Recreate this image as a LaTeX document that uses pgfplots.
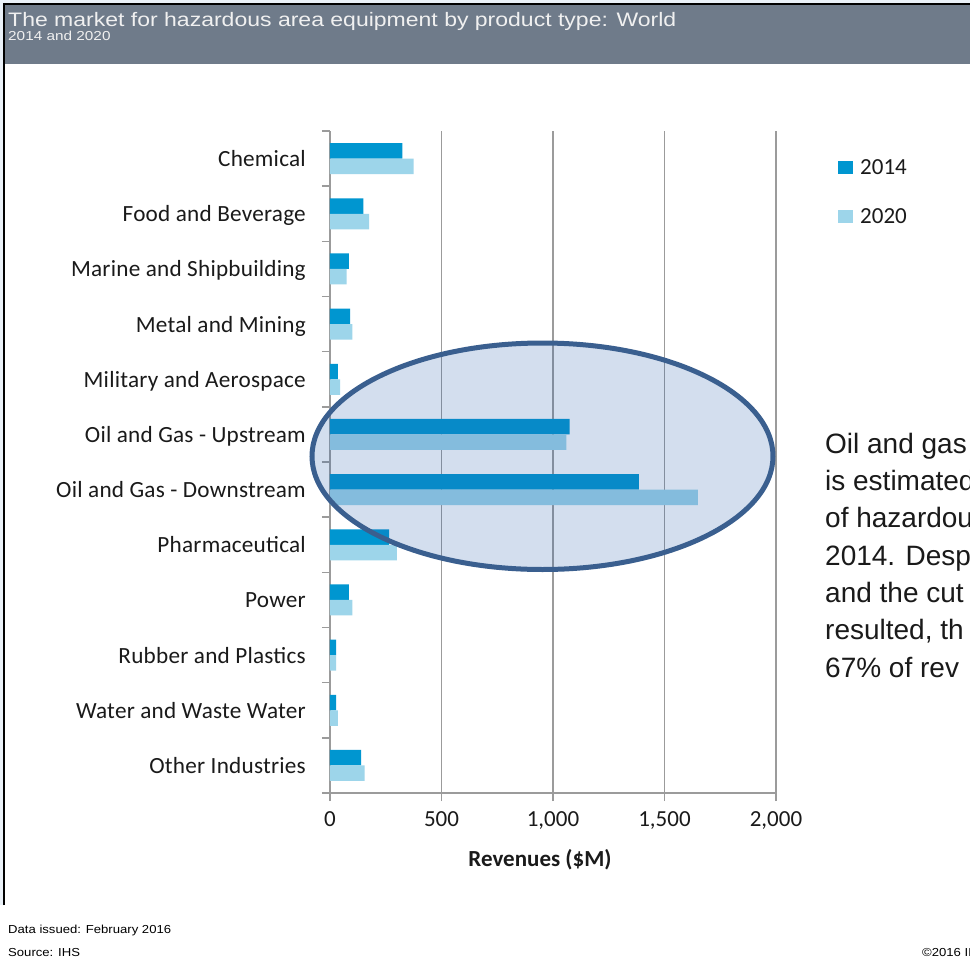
\documentclass[border=0pt]{standalone}
\usepackage{fontspec}
\setmainfont{Carlito}
\newfontfamily\arial{Liberation Sans}
\usepackage{pgfplots}
\pgfplotsset{compat=1.18}
\usepackage{graphicx}

\definecolor{cA}{RGB}{0,150,208}
\definecolor{cB}{RGB}{157,213,234}
\definecolor{gridc}{RGB}{155,155,155}
\definecolor{hdr}{RGB}{111,123,138}
\definecolor{outerbg}{RGB}{234,241,248}
\definecolor{ellc}{RGB}{58,95,143}
\definecolor{ellf}{RGB}{35,90,170}
\definecolor{txt}{RGB}{26,26,26}

\begin{document}
\begin{tikzpicture}[x=1pt,y=-1pt]
\useasboundingbox (0,0) rectangle (970,964);
\clip (0,0) rectangle (970,964);
\fill[white] (0,0) rectangle (970,964);
% slide frame and header
\fill[outerbg] (0,0) rectangle (970,3.5);
\fill[outerbg] (0,0) rectangle (3.5,905);
\fill[hdr] (4.6,4.6) rectangle (970,64);
\draw[black, line width=1.3pt] (4,905) -- (4,4) -- (970,4);
\node[anchor=base west, inner sep=0pt, text=white!94!black, font=\arial\fontsize{19.5}{22}\selectfont]
  at (8,26.7) {\scalebox{1.18}[1]{The market for hazardous area equipment by product type: World}};
\node[anchor=base west, inner sep=0pt, text=white!94!black, font=\arial\fontsize{13}{15}\selectfont]
  at (8,40) {\scalebox{1.18}[1]{2014 and 2020}};

\begin{axis}[
  at={(330pt,-793pt)}, anchor=south west,
  scale only axis, width=446pt, height=662pt,
  xbar, bar width=15.5pt,
  xmin=0, xmax=2000, ymin=-0.5, ymax=11.5,
  axis lines*=left,
  axis line style={gridc, line width=1.5pt},
  tick style={gridc, line width=1.5pt},
  tick align=outside, major tick length=8pt,
  xtick={0,500,1000,1500,2000},
  xmajorgrids, major grid style={gridc, line width=1.5pt},
  ytick={-0.5,0.5,...,11.5}, yticklabels={},
  extra y ticks={0,1,2,3,4,5,6,7,8,9,10,11},
  extra y tick labels={Other Industries,Water and Waste Water,Rubber and Plastics,Power,Pharmaceutical,Oil and Gas - Downstream,Oil and Gas - Upstream,Military and Aerospace,Metal and Mining,Marine and Shipbuilding,Food and Beverage,Chemical},
  extra y tick style={major tick length=0pt},
  yticklabel style={inner sep=0pt, anchor=east, xshift=-24pt, text height=16pt, text depth=0pt,
    font=\addfontfeatures{LetterSpace=1}\fontsize{23.2}{27}\selectfont},
  xticklabel style={inner sep=0pt, anchor=north, yshift=-10.7pt, font=\fontsize{23}{27}\selectfont},
  tick label style={text=txt},
  /pgf/number format/1000 sep={,},
  /pgf/number format/assume math mode=true,
  xlabel={\bfseries Revenues (\$M)},
  xlabel style={at={(axis description cs:0.4709,0)}, anchor=base, yshift=-73pt, inner sep=0pt,
    font=\fontsize{23}{27}\selectfont, text=txt},
  legend style={at={(axis description cs:1.139,0.9577)}, anchor=north west, draw=none, fill=none,
    inner sep=0pt, row sep=33pt, column sep=7pt, nodes={inner sep=0pt},
    font=\fontsize{23}{27}\selectfont, text=txt},
  legend cell align=left,
  legend image code/.code={\fill[#1] (0pt,-6.65pt) rectangle (15pt,6.65pt);},
]
\addplot[fill=cA, draw=none, bar shift=7.75pt] coordinates {
  (140,0) (27,1) (27,2) (85,3) (265,4) (1385,5) (1075,6) (35,7) (90,8) (85,9) (150,10) (325,11)
};
\addplot[fill=cB, draw=none, bar shift=-7.75pt] coordinates {
  (155,0) (35,1) (27,2) (100,3) (300,4) (1650,5) (1060,6) (45,7) (100,8) (75,9) (175,10) (375,11)
};
\legend{2014,2020}
\end{axis}

% highlight around the oil and gas bars
\draw[line width=5pt, ellc, fill=ellf, fill opacity=0.2] (542.5,456.25) ellipse [x radius=230.5pt, y radius=113.25pt];

% commentary text (cut by the slide edge)
\begin{scope}[every node/.style={anchor=base west, inner sep=0pt, text=txt, font=\arial\fontsize{28}{34}\selectfont}]
\node at (825,453.3) {Oil and gas};
\node at (825,490.6) {is estimated};
\node at (825,527.9) {of hazardous};
\node at (825,565.2) {2014. Despite};
\node at (825,602.5) {and the cut};
\node at (825,639.8) {resulted, th};
\node at (825,677.1) {67\% of rev};
\end{scope}

% footer
\begin{scope}[every node/.style={anchor=base west, inner sep=0pt, text=black, font=\arial\fontsize{11.6}{14}\selectfont}]
\node at (8,933.3) {\scalebox{1.13}[1]{Data issued: February 2016}};
\node at (8,956) {\scalebox{1.13}[1]{Source: IHS}};
\node at (922,956) {\scalebox{1.13}[1]{\textcopyright2016 IHS}};
\end{scope}
\end{tikzpicture}
\end{document}
